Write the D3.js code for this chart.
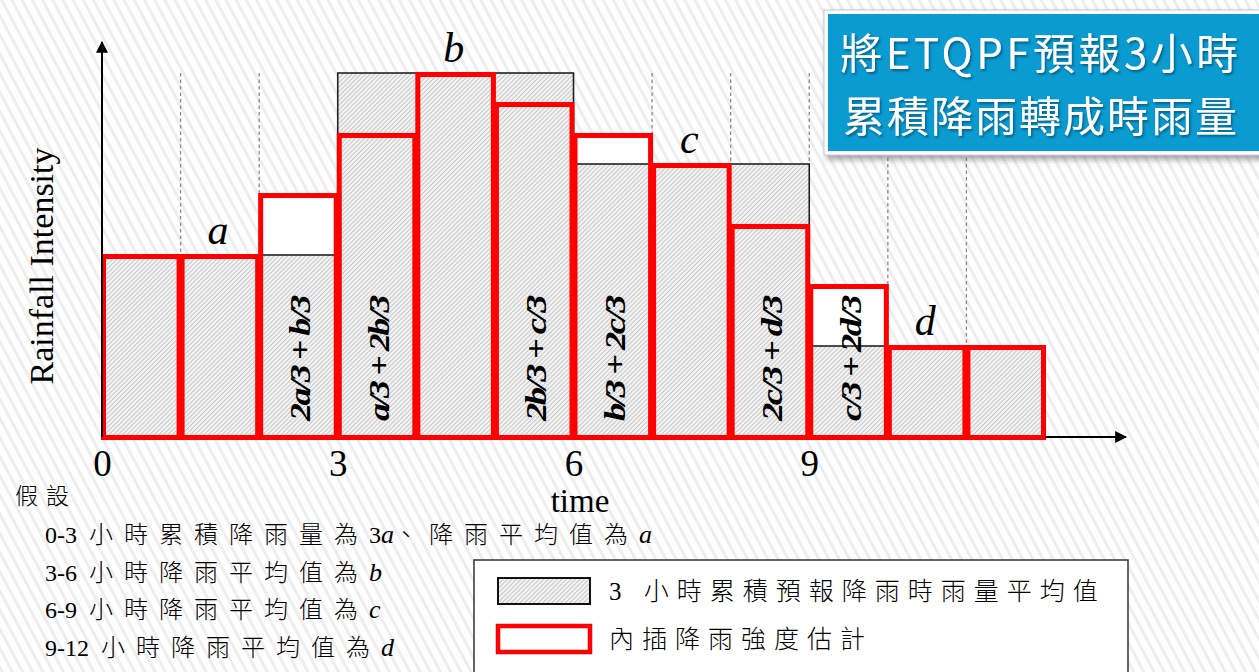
<!DOCTYPE html>
<html><head><meta charset="utf-8">
<script src="https://cdn.jsdelivr.net/npm/d3@7"></script>
<style>
html,body{margin:0;padding:0;background:#fff;}
svg{display:block;}
</style></head>
<body>
<svg id="chart" width="1259" height="672"></svg>
<script>
// ---- data ----
const blockLabels = ["a", "b", "c", "d"];
const blockStart = [0, 3, 6, 9];
const blockAvg = [2, 4, 3, 1];
const hourStart = [0, 1, 2, 3, 4, 5, 6, 7, 8, 9, 10, 11];
const hourly = [2, 2, 2.67, 3.33, 4, 3.67, 3.33, 3, 2.33, 1.67, 1, 1];
const hourlyFormula = ["", "", "2a/3 + b/3", "a/3 + 2b/3", "", "2b/3 + c/3", "b/3 + 2c/3", "", "2c/3 + d/3", "c/3 + 2d/3", "", ""];
const gridHours = [1, 2, 3, 4, 5, 6, 7, 8, 9, 10, 11];
const xTicks = [0, 3, 6, 9];
const titleLines = ["將ETQPF預報3小時", "累積降雨轉成時雨量"];
const noteTitle = "假設";
// [text, kind] kind: "l" latin, "c" cjk, "i" italic variable
const noteLines = [
  [["0-3\u00a0\u00a0", "l"], ["小時累積降雨量為", "c"], ["3", "l"], ["a", "i"], ["、降雨平均值為", "c"], ["a", "i"]],
  [["3-6\u00a0\u00a0", "l"], ["小時降雨平均值為", "c"], ["b", "i"]],
  [["6-9\u00a0\u00a0", "l"], ["小時降雨平均值為", "c"], ["c", "i"]],
  [["9-12\u00a0\u00a0", "l"], ["小時降雨平均值為", "c"], ["d", "i"]]
];
const legendLabels = ["3 小時累積預報降雨時雨量平均值", "內插降雨強度估計"];

// ---- setup ----
const svg = d3.select("#chart");
const defs = svg.append("defs");

const bg = defs.append("pattern").attr("id", "bgStripe").attr("patternUnits", "userSpaceOnUse")
  .attr("width", 9).attr("height", 9).attr("patternTransform", "rotate(-28)");
bg.append("rect").attr("width", 9).attr("height", 9).attr("fill", "#ffffff");
bg.append("rect").attr("width", 3).attr("height", 9).attr("fill", "#eeeeee");

const hatch = defs.append("pattern").attr("id", "hatch").attr("patternUnits", "userSpaceOnUse")
  .attr("width", 3.2).attr("height", 3.2).attr("patternTransform", "rotate(45)");
hatch.append("rect").attr("width", 3.2).attr("height", 3.2).attr("fill", "#f2f2f2");
hatch.append("rect").attr("width", 0.9).attr("height", 3.2).attr("fill", "#c4c4c4");

const shadow = defs.append("filter").attr("id", "boxShadow").attr("x", "-10%").attr("y", "-10%").attr("width", "130%").attr("height", "140%");
shadow.append("feDropShadow").attr("dx", 3).attr("dy", 4).attr("stdDeviation", 3).attr("flood-color", "#555").attr("flood-opacity", 0.55);
const tshadow = defs.append("filter").attr("id", "textShadow").attr("x", "-5%").attr("y", "-20%").attr("width", "110%").attr("height", "150%");
tshadow.append("feDropShadow").attr("dx", 1.5).attr("dy", 2).attr("stdDeviation", 1).attr("flood-color", "#003a55").attr("flood-opacity", 0.6);

const arrow = defs.append("marker").attr("id", "arrow").attr("viewBox", "0 0 10 10")
  .attr("refX", 9).attr("refY", 5).attr("markerWidth", 12).attr("markerHeight", 12)
  .attr("markerUnits", "userSpaceOnUse").attr("orient", "auto");
arrow.append("path").attr("d", "M0,0 L10,5 L0,10 Z").attr("fill", "#000");

svg.append("rect").attr("width", 1259).attr("height", 672).attr("fill", "url(#bgStripe)");

const x = d3.scaleLinear().domain([0, 12]).range([102, 1045]);
const y = d3.scaleLinear().domain([0, 4]).range([437, 73]);

// gridlines
svg.append("g").selectAll("line").data(gridHours).join("line")
  .attr("x1", d => x(d)).attr("x2", d => x(d))
  .attr("y1", y(d3.max(blockAvg))).attr("y2", y(0))
  .attr("stroke", "#8a8a8a").attr("stroke-width", 1.3).attr("stroke-dasharray", "3.5,3");

// red rect white fills
svg.append("g").selectAll("rect").data(hourStart).join("rect")
  .attr("x", (d) => x(d)).attr("width", d => x(d + 1) - x(d))
  .attr("y", (d, i) => y(hourly[i])).attr("height", (d, i) => y(0) - y(hourly[i]))
  .attr("fill", "#fff");

// gray 3-hour bars
svg.append("g").selectAll("rect").data(blockStart).join("rect")
  .attr("x", d => x(d)).attr("width", d => x(d + 3) - x(d))
  .attr("y", (d, i) => y(blockAvg[i])).attr("height", (d, i) => y(0) - y(blockAvg[i]))
  .attr("fill", "url(#hatch)").attr("stroke", "#222").attr("stroke-width", 1.6);

// block labels
svg.append("g").selectAll("text").data(blockStart).join("text")
  .attr("x", d => x(d + 1.5) - 2).attr("y", (d, i) => y(blockAvg[i]) - 11)
  .attr("text-anchor", "middle").attr("font-family", "Liberation Serif, serif")
  .attr("font-style", "italic").attr("font-size", 42).attr("fill", "#000")
  .text((d, i) => blockLabels[i]);

// red outlines
svg.append("g").selectAll("rect").data(hourStart).join("rect")
  .attr("x", d => x(d) + 1.5).attr("width", d => x(d + 1) - x(d) - 3)
  .attr("y", (d, i) => y(hourly[i]) + 1.5).attr("height", (d, i) => y(0) - y(hourly[i]) - 1)
  .attr("fill", "none").attr("stroke", "#ff0000").attr("stroke-width", 5);

// formula labels
svg.append("g").selectAll("text").data(hourStart.filter((d, i) => hourlyFormula[i])).join("text")
  .attr("transform", d => `translate(${x(d + 0.5) + 12},359) rotate(-90)`)
  .attr("text-anchor", "middle").attr("font-family", "Liberation Serif, serif")
  .attr("font-style", "italic").attr("font-weight", "bold").attr("font-size", 30)
  .attr("letter-spacing", -2).attr("textLength", 124).attr("lengthAdjust", "spacingAndGlyphs")
  .attr("fill", "#000")
  .text(d => hourlyFormula[d]);

// axes
svg.append("line").attr("x1", x(0)).attr("x2", x(0)).attr("y1", y(0)).attr("y2", y(4.34))
  .attr("stroke", "#000").attr("stroke-width", 2).attr("marker-end", "url(#arrow)");
svg.append("line").attr("x1", x(12)).attr("x2", x(13.03)).attr("y1", y(0)).attr("y2", y(0))
  .attr("stroke", "#000").attr("stroke-width", 2).attr("marker-end", "url(#arrow)");

const xAxis = svg.append("g").attr("transform", `translate(0,${y(0)})`)
  .call(d3.axisBottom(x).tickValues(xTicks).tickSize(0).tickPadding(13).tickFormat(d3.format("d")));
xAxis.select(".domain").remove();
xAxis.selectAll("text").attr("font-family", "Liberation Serif, serif").attr("font-size", 37).attr("fill", "#000");

svg.append("text").attr("x", 580).attr("y", 512).attr("text-anchor", "middle")
  .attr("font-family", "Liberation Serif, serif").attr("font-size", 33).attr("fill", "#000").text("time");
svg.append("text").attr("transform", "translate(53,266) rotate(-90)").attr("text-anchor", "middle")
  .attr("font-family", "Liberation Serif, serif").attr("font-size", 34).attr("fill", "#000").text("Rainfall Intensity");

// notes
const cjkFont = "Liberation Serif, Noto Sans CJK TC";
svg.append("text").attr("x", 15).attr("y", 504).attr("font-family", cjkFont).attr("font-weight", 300)
  .attr("font-size", 23).attr("letter-spacing", 8).attr("fill", "#000").text(noteTitle);
noteLines.forEach((parts, i) => {
  const t = svg.append("text").attr("x", 45).attr("y", 543 + i * 37.5)
    .attr("font-family", cjkFont).attr("font-size", 24).attr("font-weight", 300).attr("fill", "#000");
  parts.forEach(p => t.append("tspan")
    .attr("font-style", p[1] === "i" ? "italic" : "normal")
    .attr("font-size", p[1] === "i" ? 26 : 24)
    .attr("letter-spacing", p[1] === "c" ? 11 : 0)
    .text(p[0]));
});

// legend
const lg = svg.append("g");
lg.append("rect").attr("x", 474).attr("y", 560).attr("width", 654).attr("height", 130)
  .attr("fill", "#fff").attr("stroke", "#333").attr("stroke-width", 1.5);
lg.append("rect").attr("x", 498).attr("y", 578).attr("width", 92).attr("height", 26)
  .attr("fill", "url(#hatch)").attr("stroke", "#111").attr("stroke-width", 2);
lg.append("rect").attr("x", 498).attr("y", 626).attr("width", 92).attr("height", 26)
  .attr("fill", "#fff").attr("stroke", "#ff0000").attr("stroke-width", 4.5);
legendLabels.forEach((l, i) => {
  lg.append("text").attr("x", 609).attr("y", 600 + i * 48)
    .attr("font-family", cjkFont).attr("font-size", 25).attr("font-weight", 300)
    .attr("letter-spacing", 8).attr("fill", "#000").text(l);
});

// title box
const tb = svg.append("g");
tb.append("rect").attr("x", 824).attr("y", 10).attr("width", 450).attr("height", 145)
  .attr("fill", "#fff").attr("stroke", "#c8bfe6").attr("stroke-width", 1).attr("filter", "url(#boxShadow)");
tb.append("rect").attr("x", 828).attr("y", 14).attr("width", 440).attr("height", 137).attr("fill", "#0a9bd1");
titleLines.forEach((l, i) => {
  tb.append("text").attr("x", 1041).attr("y", 69 + i * 63).attr("text-anchor", "middle")
    .attr("font-family", "Noto Sans CJK TC, sans-serif").attr("font-size", 42).attr("font-weight", 400)
    .attr("letter-spacing", i === 0 ? 3.5 : 2).attr("fill", "#fff").attr("filter", "url(#textShadow)").text(l);
});
</script>
</body></html>
